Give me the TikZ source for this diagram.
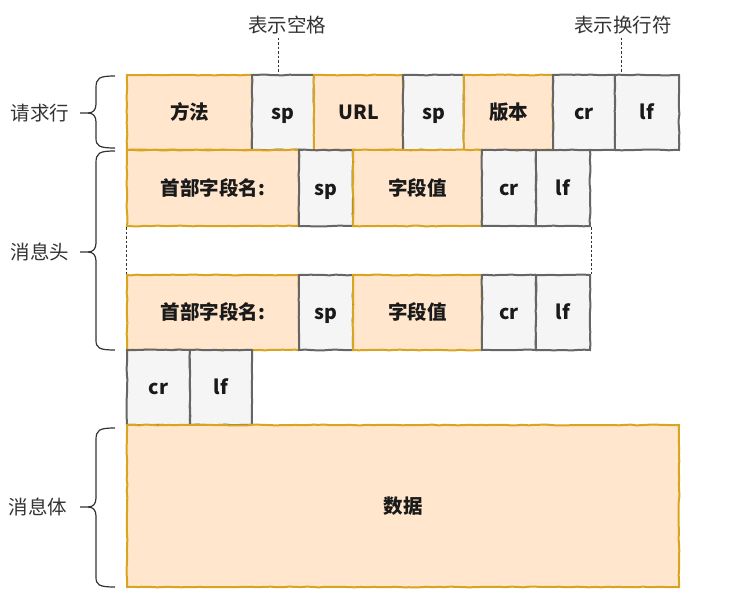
\documentclass[tikz,border=0pt]{standalone}
\usepackage{fontspec}
\setmainfont{Noto Sans CJK SC}
\usetikzlibrary{decorations.pathmorphing}
\definecolor{ofill}{HTML}{FFE6CC}
\definecolor{oline}{HTML}{D9A520}
\definecolor{gfill}{HTML}{F5F5F5}
\definecolor{gline}{HTML}{666666}
\definecolor{txt}{HTML}{1A1A1A}
\definecolor{lbl}{HTML}{333333}
\begin{document}
\begin{tikzpicture}[x=1pt,y=-1pt,
  cellbase/.style={inner sep=0pt, line width=2pt, font=\fontsize{19.5}{23}\selectfont\bfseries, text=txt,
    text height=16pt, text depth=2pt,
    decorate, decoration={random steps, segment length=6pt, amplitude=0.4pt}},
  ob/.style={cellbase, draw=oline, fill=ofill},
  gb/.style={cellbase, draw=gline, fill=gfill},
  lab/.style={font=\fontsize{19.5}{23}\selectfont, text=lbl},
  bracel/.style={draw=lbl, line width=1.2pt},
  dotl/.style={draw=lbl, line width=1pt, dash pattern=on 2.5pt off 2pt}]
\useasboundingbox (0,0) rectangle (731,613);
% row 1
\node[ob, minimum width=125pt, minimum height=75pt] (m1) at (189.5,112.5) {方法};
\node[gb, minimum width=62pt, minimum height=75pt] (sp1) at (283,112.5) {sp};
\node[ob, minimum width=89pt, minimum height=75pt] (url) at (358.5,112.5) {URL};
\node[gb, minimum width=61pt, minimum height=75pt] (sp2) at (433.5,112.5) {sp};
\node[ob, minimum width=89pt, minimum height=75pt] (ver) at (508.5,112.5) {版本};
\node[gb, minimum width=62pt, minimum height=75pt] (cr1) at (584,112.5) {cr};
\node[gb, minimum width=64pt, minimum height=75pt] (lf1) at (647,112.5) {lf};
% row 2
\node[ob, minimum width=172pt, minimum height=76pt] (h1) at (213,188) {首部字段名:};
\node[gb, minimum width=54pt, minimum height=76pt] (hs1) at (326,188) {sp};
\node[ob, minimum width=129pt, minimum height=76pt] (hv1) at (417.5,188) {字段值};
\node[gb, minimum width=54pt, minimum height=76pt] (hc1) at (509,188) {cr};
\node[gb, minimum width=54pt, minimum height=76pt] (hl1) at (563,188) {lf};
% row 3
\node[ob, minimum width=172pt, minimum height=75pt] (h2) at (213,312.5) {首部字段名:};
\node[gb, minimum width=54pt, minimum height=75pt] (hs2) at (326,312.5) {sp};
\node[ob, minimum width=129pt, minimum height=75pt] (hv2) at (417.5,312.5) {字段值};
\node[gb, minimum width=54pt, minimum height=75pt] (hc2) at (509,312.5) {cr};
\node[gb, minimum width=54pt, minimum height=75pt] (hl2) at (563,312.5) {lf};
% row 4
\node[gb, minimum width=63pt, minimum height=75pt] (cr4) at (158.5,387.5) {cr};
\node[gb, minimum width=62pt, minimum height=75pt] (lf4) at (221,387.5) {lf};
% body
\node[ob, minimum width=552pt, minimum height=162pt] (data) at (403,506) {数据};
% dotted verticals
\draw[dotl] (h1.south west) -- (h2.north west);
\draw[dotl] (hl1.south east) -- (hl2.north east);
% annotations
\node[lab] (ann1) at (287,25) {表示空格};
\node[lab] (ann2) at (623,25) {表示换行符};
\coordinate (a1) at (278,73);
\coordinate (a2) at (621,73);
\draw[dotl] (ann1.south -| a1) -- (a1);
\draw[dotl] (ann2.south -| a2) -- (a2);
% braces
\node[lab] (l1) at (40,113) {请求行};
\node[lab] (l2) at (40,252) {消息头};
\node[lab] (l3) at (38,507) {消息体};
\draw[bracel] (115,76) .. controls (99,76) and (96,78) .. (96,88) -- (96,104)
  .. controls (96,110) and (93,113) .. (88,113) -- (80,113);
\draw[bracel] (88,113) .. controls (93,113) and (96,116) .. (96,122) -- (96,138)
  .. controls (96,146) and (99,148) .. (115,148);
\draw[bracel] (115,151) .. controls (99,151) and (96,153) .. (96,163) -- (96,243)
  .. controls (96,249) and (93,252) .. (88,252) -- (80,252);
\draw[bracel] (88,252) .. controls (93,252) and (96,255) .. (96,261) -- (96,340)
  .. controls (96,348) and (99,350) .. (115,350);
\draw[bracel] (115,428) .. controls (99,428) and (96,430) .. (96,440) -- (96,498)
  .. controls (96,504) and (93,507) .. (88,507) -- (80,507);
\draw[bracel] (88,507) .. controls (93,507) and (96,510) .. (96,516) -- (96,577)
  .. controls (96,585) and (99,587) .. (115,587);
\end{tikzpicture}
\end{document}
